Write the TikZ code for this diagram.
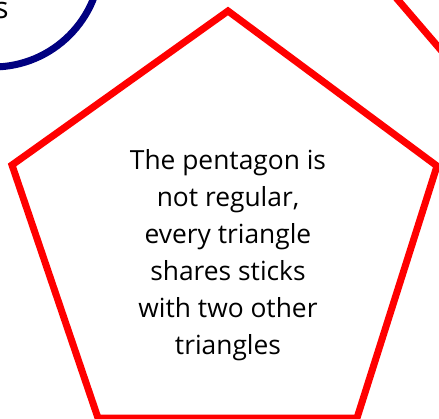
\documentclass[tikz,border=0pt]{standalone}
\usepackage{fontspec}
\setmainfont{Open Sans}
\usetikzlibrary{positioning}
\definecolor{stick}{HTML}{FF0000}
\definecolor{ring}{HTML}{000080}

\begin{document}
\begin{tikzpicture}[
  x=0.2mm, y=-0.2mm,
  stickline/.style={draw=stick, line width=1.4mm},
  ringline/.style={draw=ring, line width=1.4mm},
  note/.style={align=center, inner sep=0pt, font=\fontsize{15}{21}\selectfont}
]
  \useasboundingbox (0,0) rectangle (439,419);
  \clip (0,0) rectangle (439,419);
  % circle cut off at the top left
  \draw[ringline] (-7,-41) circle (108);
  \node[anchor=base east, inner sep=0pt, font=\fontsize{17}{21}\selectfont] (ringtxt) at (9,18) {s};
  % next shape, top right
  \draw[stickline] (380,-21) -- (470,84);
  % pentagon
  \draw[stickline] (228,11) -- (12,165) -- (98,418) -- (357,418) -- (437,166) -- cycle;
  \node[note] (pentatxt) at (228,255)
    {The pentagon is\\ not regular,\\ every triangle\\ shares sticks\\ with two other\\ triangles};
\end{tikzpicture}
\end{document}
